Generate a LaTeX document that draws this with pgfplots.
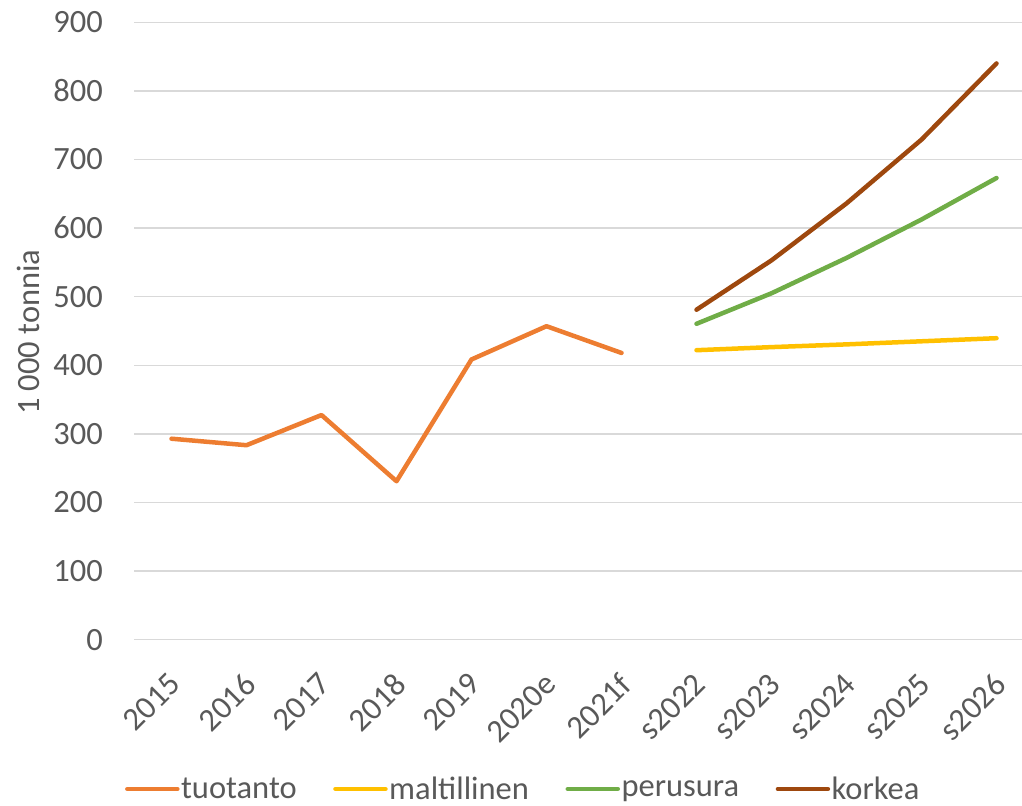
\documentclass[border=0pt]{standalone}
\usepackage{pgfplots}
\pgfplotsset{compat=1.18}
\usepackage{fontspec}
\setmainfont{Carlito}
\definecolor{tuo}{HTML}{ED7D31}
\definecolor{mal}{HTML}{FFC000}
\definecolor{per}{HTML}{70AD47}
\definecolor{kor}{HTML}{9E480E}
\definecolor{gridc}{HTML}{D9D9D9}
\definecolor{txt}{HTML}{595959}
\begin{document}
\begin{tikzpicture}
\path[use as bounding box] (0bp,0bp) rectangle (1022bp,806bp);
\begin{axis}[
  at={(134bp,166.3bp)}, anchor=south west,
  scale only axis, width=888bp, height=617.4bp,
  xmin=-0.5, xmax=11.34, ymin=0, ymax=900,
  ytick={0,100,...,900},
  xtick={0,...,11},
  xticklabels={2015,2016,2017,2018,2019,2020e,2021f,s2022,s2023,s2024,s2025,s2026},
  ymajorgrids,
  major grid style={draw=gridc, line width=1.5bp},
  axis line style={draw=none},
  major tick length=0pt,
  clip=false,
  /pgf/number format/assume math mode=true,
  tick label style={font=\fontsize{32.5bp}{39bp}\selectfont, text=txt},
  yticklabel style={anchor=east, inner sep=0pt, xshift=-31bp},
  xticklabel style={rotate=45, anchor=north east, inner sep=0pt, xshift=-25bp, yshift=-19.5bp},
  ylabel={1 000 tonnia},
  ylabel style={at={(axis description cs:-0.119,0.498)}, anchor=center, inner sep=0pt,
    font=\fontsize{32.5bp}{39bp}\selectfont, text=txt},
  legend columns=4,
  legend style={at={(axis description cs:0.438,-0.2418)}, anchor=center,
    draw=none, fill=none, font=\fontsize{32.5bp}{39bp}\selectfont, text=txt,
    nodes={inner sep=1.5bp},
    /tikz/every even column/.append style={column sep=35bp}},
  legend image code/.code={\draw[#1, line cap=round] (0bp,0bp) -- (50bp,0bp);},
  every axis plot/.append style={line width=4.5bp, line cap=round, line join=round, no markers},
]
\addplot[color=tuo] coordinates {(0,293) (1,283.5) (2,327.5) (3,231) (4,408.5) (5,457) (6,418)};
\addlegendentry{tuotanto}
\addplot[color=mal] coordinates {(7,422) (8,426.5) (9,430.5) (10,435) (11,439.5)};
\addlegendentry{maltillinen}
\addplot[color=per] coordinates {(7,460.5) (8,505) (9,556.5) (10,612.5) (11,673)};
\addlegendentry{perusura}
\addplot[color=kor] coordinates {(7,481) (8,553) (9,636) (10,729) (11,840)};
\addlegendentry{korkea}
\end{axis}
\end{tikzpicture}
\end{document}
